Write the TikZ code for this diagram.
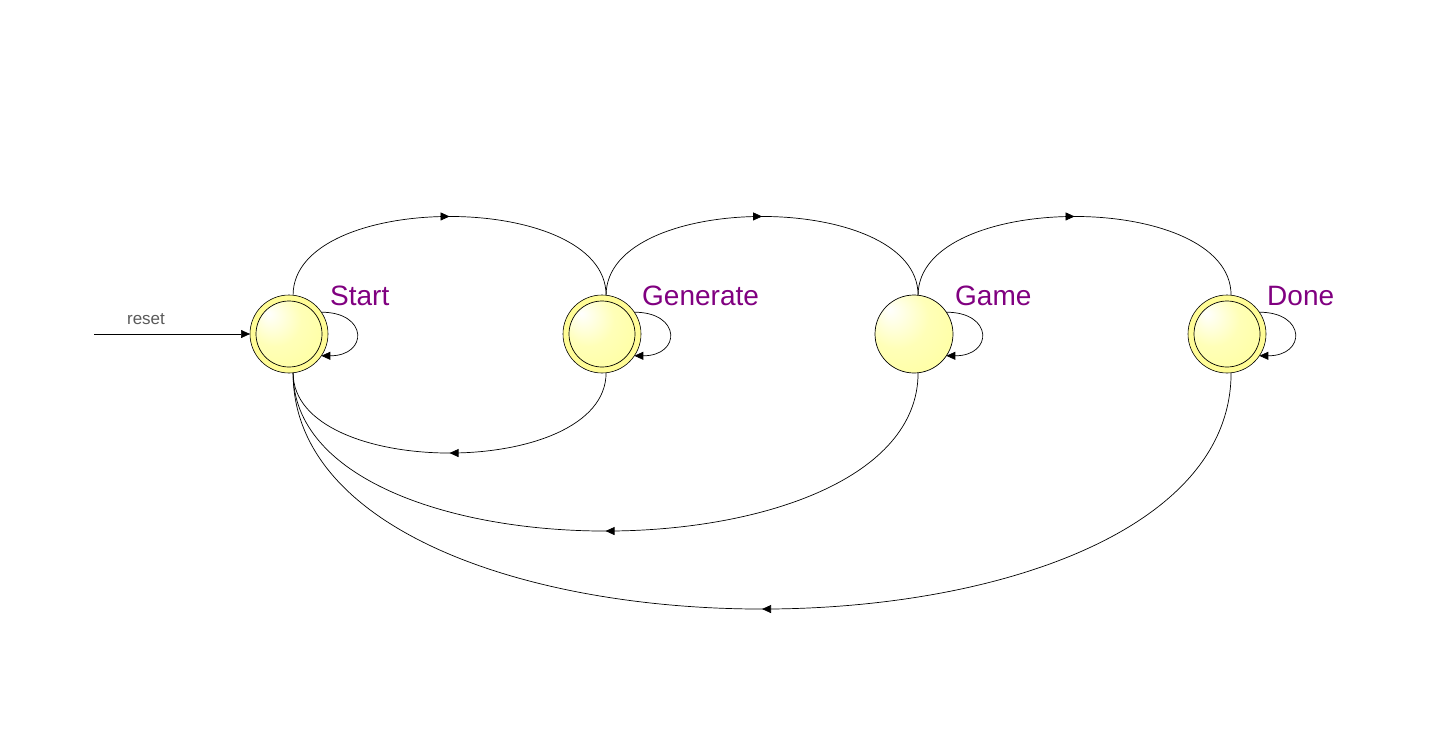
\documentclass[tikz,border=0pt]{standalone}
\usepackage{fontspec}
\setmainfont{Liberation Sans}
\usetikzlibrary{arrows.meta,decorations.markings}
\definecolor{labpurple}{RGB}{128,0,128}
\definecolor{ringyellow}{RGB}{255,252,150}
\definecolor{diskyellow}{RGB}{255,255,160}
\definecolor{resetgray}{RGB}{90,90,90}
\pgfdeclareradialshading{statesh}{\pgfpoint{-16bp}{16bp}}{color(0bp)=(white); color(20bp)=(diskyellow!75!white); color(40bp)=(diskyellow); color(60bp)=(diskyellow)}
\tikzset{
  outerring/.style={circle,draw=black,line width=0.6pt,fill=ringyellow,minimum size=78pt,inner sep=0pt,outer sep=0pt},
  innerdisk/.style={circle,draw=black,line width=0.7pt,shading=statesh,minimum size=66pt,inner sep=0pt},
  plaindisk/.style={circle,draw=black,line width=0.7pt,shading=statesh,minimum size=78pt,inner sep=0pt,outer sep=0pt},
  statelabel/.style={anchor=base west,text=labpurple,font=\fontsize{28}{30}\selectfont,inner sep=0pt},
  trans/.style={draw=black,line width=0.7pt},
  tip/.style={-{Triangle[length=9pt,width=8pt]}},
  midarrow/.style={postaction={decorate},decoration={markings,mark=at position 0.5 with {\arrow{Triangle[length=9pt,width=8pt]}}}}
}
\begin{document}
\begin{tikzpicture}[x=1pt,y=-1pt]
\useasboundingbox (0,0) rectangle (1445,749);
% states
\node[outerring] (s1) at (289,334) {};
\node[innerdisk] (s1i) at (s1) {};
\node[outerring] (s2) at (602,334) {};
\node[innerdisk] (s2i) at (s2) {};
\node[plaindisk] (s3) at (914,334) {};
\node[outerring] (s4) at (1227,334) {};
\node[innerdisk] (s4i) at (s4) {};
% labels
\node[statelabel] (l1) at (330,305) {Start};
\node[statelabel] (l2) at (642,305) {Generate};
\node[statelabel] (l3) at (955,305) {Game};
\node[statelabel] (l4) at (1267,305) {Done};
% reset
\coordinate (rs) at (94,334);
\draw[trans,tip] (rs) -- (s1.west);
\node[text=resetgray,font=\fontsize{17}{19}\selectfont,anchor=base,inner sep=0pt] (rl) at (146,324) {reset};
% top arcs
\draw[trans,midarrow] (s1.84) .. controls +(0,-105) and +(0,-105) .. (s2.84);
\draw[trans,midarrow] (s2.84) .. controls +(0,-105) and +(0,-105) .. (s3.84);
\draw[trans,midarrow] (s3.84) .. controls +(0,-105) and +(0,-105) .. (s4.84);
% bottom arcs
\draw[trans,midarrow] (s2.-84) .. controls +(0,107) and +(0,107) .. (s1.-84);
\draw[trans,midarrow] (s3.-84) .. controls +(0,211) and +(0,211) .. (s1.-84);
\draw[trans,midarrow] (s4.-84) .. controls +(0,315) and +(0,315) .. (s1.-84);
% self loops
\draw[trans,tip] (s1.34) .. controls +(47,0) and +(47,0) .. (s1.-34);
\draw[trans,tip] (s2.34) .. controls +(47,0) and +(47,0) .. (s2.-34);
\draw[trans,tip] (s3.34) .. controls +(47,0) and +(47,0) .. (s3.-34);
\draw[trans,tip] (s4.34) .. controls +(47,0) and +(47,0) .. (s4.-34);
\end{tikzpicture}
\end{document}
